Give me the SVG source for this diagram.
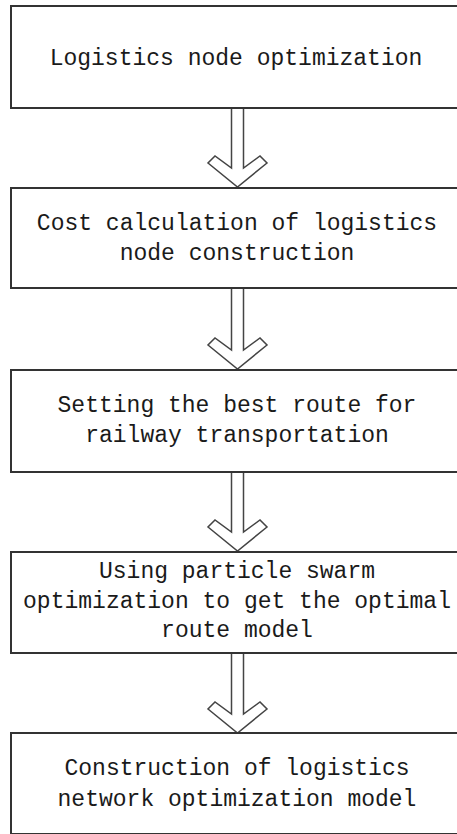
<svg xmlns="http://www.w3.org/2000/svg" width="457" height="834" viewBox="0 0 457 834">
<style>
.box{fill:#fff;stroke:#333;stroke-width:2}
.arr{fill:#fff;stroke:#444;stroke-width:1.5;stroke-linejoin:miter}
.t{font-family:"Liberation Mono","DejaVu Sans Mono",monospace;font-size:23px;fill:#1a1a1a;text-anchor:middle}
</style>
<rect width="457" height="834" fill="#fff"/>
<g id="connectors">
<polygon class="arr" points="231.5,108 231.5,168 215,156 208,163 237.5,187 267,163 260,156 243.5,168 243.5,108"/>
<polygon class="arr" points="231.5,288 231.5,350 215,338 208,345 237.5,369 267,345 260,338 243.5,350 243.5,288"/>
<polygon class="arr" points="231.5,472 231.5,532 215,520 208,527 237.5,551 267,527 260,520 243.5,532 243.5,472"/>
<polygon class="arr" points="231.5,653 231.5,714 215,702 208,709 237.5,733 267,709 260,702 243.5,714 243.5,653"/>
</g>
<g id="n1">
<rect class="box" x="11" y="6" width="453" height="102"/>
<text class="t" x="236" y="65">Logistics node optimization</text>
</g>
<g id="n2">
<rect class="box" x="11" y="188" width="453" height="100"/>
<text class="t" x="237" y="230">Cost calculation of logistics</text>
<text class="t" x="237" y="260">node construction</text>
</g>
<g id="n3">
<rect class="box" x="11" y="370" width="453" height="102"/>
<text class="t" x="237" y="412">Setting the best route for</text>
<text class="t" x="237" y="442">railway transportation</text>
</g>
<g id="n4">
<rect class="box" x="11" y="552" width="453" height="101"/>
<text class="t" x="237" y="578">Using particle swarm</text>
<text class="t" x="237" y="608">optimization to get the optimal</text>
<text class="t" x="237" y="637">route model</text>
</g>
<g id="n5">
<rect class="box" x="11" y="733" width="453" height="101"/>
<text class="t" x="237" y="775">Construction of logistics</text>
<text class="t" x="237" y="806">network optimization model</text>
</g>
</svg>
